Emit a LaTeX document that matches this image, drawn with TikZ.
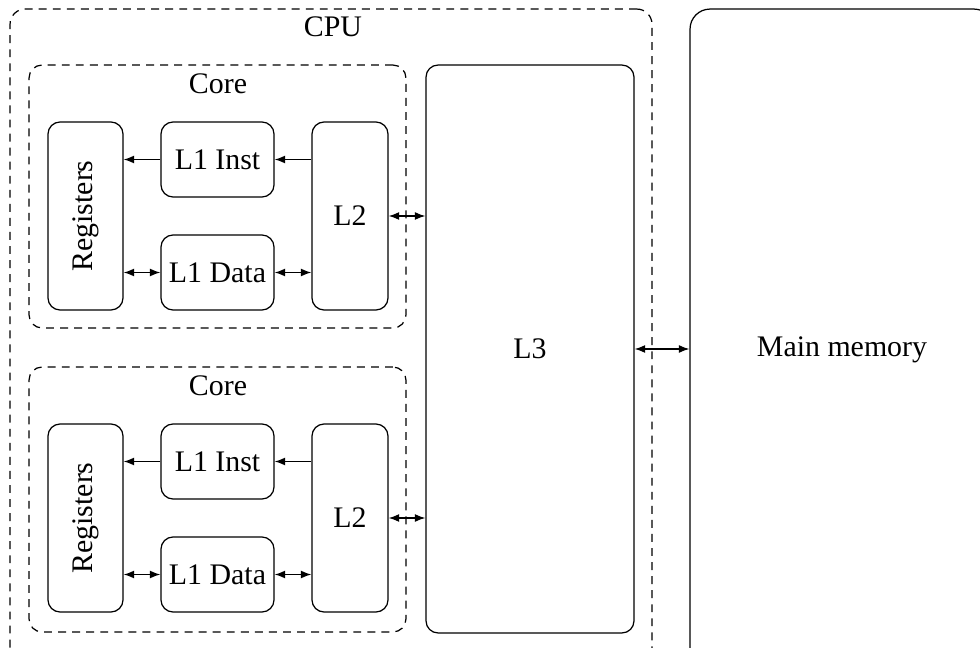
\documentclass[tikz,border=0pt]{standalone}
\usepackage{fontspec}
\setmainfont{Liberation Serif}
\usetikzlibrary{arrows.meta,positioning}
\tikzset{
  box/.style={draw, rounded corners=0.24cm, line width=0.7pt, align=center},
  group/.style={draw, rounded corners=0.26cm, line width=0.7pt, dash pattern=on 4.5pt off 3.5pt},
  link/.style={line width=0.7pt},
}

\begin{document}
\begin{tikzpicture}[x=0.02cm, y=-0.02cm, >={Latex[length=6pt,width=4.5pt]}, font=\fontsize{17}{20}\selectfont]
    \useasboundingbox (0,0) rectangle (980,648);
    \clip (0,0) rectangle (980,648);

    % containers
    \node (cpu)[group, rounded corners=0.3cm, minimum width=12.84cm, minimum height=13.64cm] at (331,350) {};
    \node (cpulabel) at (333,27) {CPU};
    \node (core1)[group, minimum width=7.54cm, minimum height=5.26cm] at (217.5,196.5) {};
    \node (core1label) at (218,84) {Core};
    \node (core2)[group, minimum width=7.54cm, minimum height=5.3cm] at (217.5,499.5) {};
    \node (core2label) at (218,386) {Core};

    % first core
    \node (reg1)[box, minimum width=1.5cm, minimum height=3.76cm] at (85.5,216) {\rotatebox{90}{Registers}};
    \node (l1i1)[box, minimum width=2.26cm, minimum height=1.5cm] at (217.5,159.5) {L1 Inst};
    \node (l1d1)[box, minimum width=2.26cm, minimum height=1.5cm] at (217.5,272.5) {L1 Data};
    \node (l2a)[box, minimum width=1.52cm, minimum height=3.76cm] at (350,216) {L2};

    % second core
    \node (reg2)[box, minimum width=1.5cm, minimum height=3.76cm] at (85.5,518) {\rotatebox{90}{Registers}};
    \node (l1i2)[box, minimum width=2.26cm, minimum height=1.5cm] at (217.5,461.5) {L1 Inst};
    \node (l1d2)[box, minimum width=2.26cm, minimum height=1.5cm] at (217.5,574.5) {L1 Data};
    \node (l2b)[box, minimum width=1.52cm, minimum height=3.76cm] at (350,518) {L2};

    % shared
    \node (l3)[box, minimum width=4.16cm, minimum height=11.36cm] at (530,349) {L3};
    \node (mem)[box, rounded corners=0.4cm, minimum width=6.08cm, minimum height=13.64cm] at (842,350) {Main memory};

    % connect the nodes
    \draw[link, ->] (l1i1.east -| l2a.west) -- (l1i1.east);
    \draw[link, ->] (l1i1.west) -- (l1i1.west -| reg1.east);
    \draw[link, <->] (reg1.east |- l1d1) -- (l1d1.west);
    \draw[link, <->] (l1d1.east) -- (l1d1.east -| l2a.west);
    \draw[link, <->] (l2a.east) -- (l2a.east -| l3.west);

    \draw[link, ->] (l1i2.east -| l2b.west) -- (l1i2.east);
    \draw[link, ->] (l1i2.west) -- (l1i2.west -| reg2.east);
    \draw[link, <->] (reg2.east |- l1d2) -- (l1d2.west);
    \draw[link, <->] (l1d2.east) -- (l1d2.east -| l2b.west);
    \draw[link, <->] (l2b.east) -- (l2b.east -| l3.west);

    \draw[link, <->] (l3.east) -- (l3.east -| mem.west);
\end{tikzpicture}
\end{document}
